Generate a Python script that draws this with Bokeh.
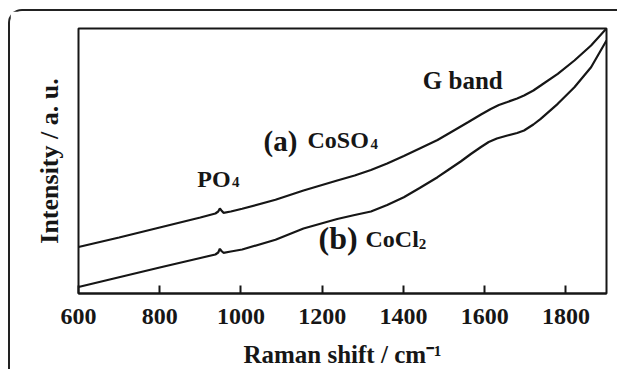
import math
from bokeh.plotting import figure
from bokeh.models import Range1d, Label, FixedTicker
from bokeh.embed import file_html
from bokeh.resources import INLINE

# ---- data (intensity in arbitrary units) ----
wavenumber_a = [600, 700, 800, 900, 937, 944, 948, 952, 957, 975, 1003, 1085, 1154,
                1237, 1280, 1320, 1360, 1401, 1440, 1484, 1520, 1560, 1591, 1615,
                1635, 1656, 1680, 1697, 1720, 1738, 1780, 1821, 1862, 1900]
intensity_a = [46.5, 56, 66, 76, 80, 82, 85, 83, 80.7, 82, 84.7, 93.7, 103,
               113, 118, 123.5, 130, 137.5, 145, 153.5, 162, 171.5, 179, 184.5,
               188.5, 191.5, 195, 198, 203, 208, 219.7, 233, 248, 265]

wavenumber_b = [600, 700, 800, 900, 937, 944, 948, 952, 957, 975, 1003, 1085, 1154,
                1237, 1280, 1320, 1360, 1401, 1440, 1484, 1510, 1541, 1566, 1591,
                1610, 1630, 1656, 1680, 1697, 1720, 1738, 1780, 1821, 1862, 1900]
intensity_b = [6.5, 16.3, 26, 35.5, 39, 41, 44.7, 42.5, 40.7, 42, 44, 53.7, 65,
               74.5, 78.5, 82, 88.5, 96.3, 105.5, 116.3, 123.5, 132, 139.5, 146.5,
               151.5, 155, 158, 160.5, 163, 169, 174.7, 189.7, 206.3, 226.3, 253]

x_ticks = [600, 800, 1000, 1200, 1400, 1600, 1800]
x_label = "Raman shift / cm\u207b\u00b9"
y_label = "Intensity / a. u."

INK = "#161616"
FONT = "Liberation Serif"

p = figure(width=609, height=360, output_backend="svg", toolbar_location=None,
           title=None,
           x_range=Range1d(600, 1900), y_range=Range1d(0, 265),
           min_border_left=68, min_border_right=13, min_border_top=17,
           min_border_bottom=78)
p.styles = {"margin-left": "8px", "margin-top": "9px",
            "border-top": "2px solid #222", "border-left": "2px solid #222",
            "border-top-left-radius": "14px"}

p.background_fill_color = "white"
p.border_fill_color = "white"
p.outline_line_color = INK
p.outline_line_width = 2
p.grid.visible = False

p.line(wavenumber_a, intensity_a, line_color=INK, line_width=2.2)
p.line(wavenumber_b, intensity_b, line_color=INK, line_width=2.2)

ax = p.xaxis[0]
ax.ticker = FixedTicker(ticks=x_ticks)
ax.major_tick_in = 8
ax.major_tick_out = 0
ax.minor_tick_line_color = None
ax.axis_line_width = 2
ax.axis_line_color = INK
ax.major_tick_line_width = 2
ax.major_tick_line_color = INK
ax.major_label_text_font = FONT
ax.major_label_text_font_style = "bold"
ax.major_label_text_font_size = "24px"
ax.major_label_text_color = INK
ax.major_label_standoff = 15
ax.axis_label = x_label
ax.axis_label_text_font = FONT
ax.axis_label_text_font_style = "bold"
ax.axis_label_text_font_size = "25px"
ax.axis_label_text_color = INK
ax.axis_label_standoff = 14

ay = p.yaxis[0]
ay.ticker = FixedTicker(ticks=[])
ay.major_tick_in = 0
ay.major_tick_out = 0
ay.minor_tick_line_color = None
ay.axis_line_color = None
ay.major_label_text_font_size = "0px"
ay.axis_label = y_label
ay.axis_label_text_font = FONT
ay.axis_label_text_font_style = "bold"
ay.axis_label_text_font_size = "26px"
ay.axis_label_text_color = INK
ay.axis_label_standoff = 15


def lab(x, y, text, size):
    p.add_layout(Label(x=x, y=y, text=text, text_font=FONT, text_font_style="bold",
                       text_font_size=size, text_color=INK,
                       text_baseline="alphabetic", text_align="left"))


# annotations inside the plot
lab(892.3, 115, "PO", "24px")
lab(978, 111.5, "4", "15px")
lab(1055.5, 152.5, "(a)", "29px")
lab(1163.8, 153.7, "CoSO", "24px")
lab(1319, 149.5, "4", "15px")
lab(1190.9, 55.3, "(b)", "32px")
lab(1306.6, 54.3, "CoCl", "24px")
lab(1437.9, 49.5, "2", "15px")
lab(1447.7, 212.7, "G band", "25px")

open("out.html", "w").write(file_html(p, INLINE))
